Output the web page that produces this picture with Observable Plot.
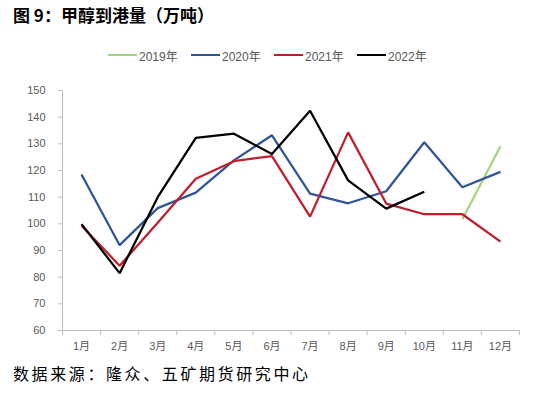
<!DOCTYPE html>
<html>
<head>
<meta charset="utf-8">
<script src="https://cdn.jsdelivr.net/npm/d3@7"></script>
<script src="https://cdn.jsdelivr.net/npm/@observablehq/plot@0.6"></script>
<style>
  html, body { margin: 0; padding: 0; background: #fff; }
  #wrap { position: relative; width: 541px; height: 393px; overflow: hidden; }
  #title { position: absolute; left: 13px; top: 3px; font-family: "Noto Sans CJK SC", sans-serif; font-weight: bold; font-size: 17px; line-height: 24px; color: #000; white-space: nowrap; }
  #legend { position: absolute; left: 108px; top: 46px; height: 18px; display: flex; font-family: "Liberation Sans", "Noto Sans CJK SC", sans-serif; font-size: 12px; color: #595959; }
  .item { width: 83px; display: flex; align-items: center; }
  .sw { width: 29px; height: 2.5px; margin-right: 2px; }
  #footer { position: absolute; left: 13px; top: 361px; font-family: "Noto Sans CJK SC", sans-serif; font-size: 16px; letter-spacing: 2.6px; line-height: 24px; color: #000; white-space: nowrap; }
  #chart { position: absolute; left: 0; top: 0; }
</style>
</head>
<body>
<div id="wrap">
  <div id="chart"></div>
  <div id="title">图 9：甲醇到港量（万吨）</div>
  <div id="legend"></div>
  <div id="footer">数据来源：隆众、五矿期货研究中心</div>
</div>
<script>
const months = ["1月","2月","3月","4月","5月","6月","7月","8月","9月","10月","11月","12月"];
const seriesNames = ["2019年","2020年","2021年","2022年"];
const seriesColors = ["#A3D283","#2F5597","#BE1E2D","#000000"];
const yTicks = [60,70,80,90,100,110,120,130,140,150];

const v2019 = [null,null,null,null,null,null,null,null,null,null,101.7,129.1];
const v2020 = [118.5,92.0,105.9,111.7,123.8,133.2,111.3,107.7,112.2,130.6,113.7,119.5];
const v2021 = [99.3,84.3,100.4,116.9,123.5,125.4,102.7,134.3,107.6,103.6,103.6,93.3];
const v2022 = [99.9,81.5,110.0,132.2,133.8,126.2,142.4,116.3,105.7,112.0];

const allSeries = [v2019, v2020, v2021, v2022];
const rows = [];
allSeries.forEach((vals, si) => {
  vals.forEach((v, i) => {
    if (v != null) rows.push({ m: i + 1, value: v, series: seriesNames[si] });
  });
});

const monthNums = months.map((_, i) => i + 1);
const bounds = [0.5, ...monthNums.map(m => m + 0.5)];

const chart = Plot.plot({
  width: 541,
  height: 393,
  marginLeft: 62,
  marginRight: 22,
  marginTop: 90,
  marginBottom: 63,
  style: { fontFamily: "'Liberation Sans', 'Noto Sans CJK SC', sans-serif", fontSize: "11px", background: "transparent" },
  x: { type: "linear", domain: [bounds[0], bounds[bounds.length - 1]], axis: null },
  y: { domain: [yTicks[0], yTicks[yTicks.length - 1]], axis: null },
  color: { domain: seriesNames, range: seriesColors },
  marks: [
    Plot.ruleX([bounds[0]], { stroke: "#BFBFBF", strokeWidth: 1 }),
    Plot.ruleY([yTicks[0]], { stroke: "#BFBFBF", strokeWidth: 1 }),
    Plot.axisY({ ticks: yTicks, tickSize: 4, tickPadding: 13, stroke: "#BFBFBF", fill: "#595959", fontSize: 11, label: null }),
    Plot.axisX({ ticks: bounds, tickSize: 5, tickFormat: () => "", stroke: "#BFBFBF", label: null }),
    Plot.axisX({ ticks: monthNums, tickSize: 0, tickPadding: 12, tickFormat: d => months[d - 1], fill: "#595959", fontSize: 11, label: null }),
    Plot.lineY(rows, { x: "m", y: "value", z: "series", stroke: "series", strokeWidth: 2.25, strokeLinejoin: "miter", strokeLinecap: "butt" })
  ]
});
document.getElementById("chart").appendChild(chart);

const legend = document.getElementById("legend");
seriesNames.forEach((name, i) => {
  const item = document.createElement("div");
  item.className = "item";
  const sw = document.createElement("span");
  sw.className = "sw";
  sw.style.background = seriesColors[i];
  const t = document.createElement("span");
  t.textContent = name;
  item.appendChild(sw);
  item.appendChild(t);
  legend.appendChild(item);
});
</script>
</body>
</html>
